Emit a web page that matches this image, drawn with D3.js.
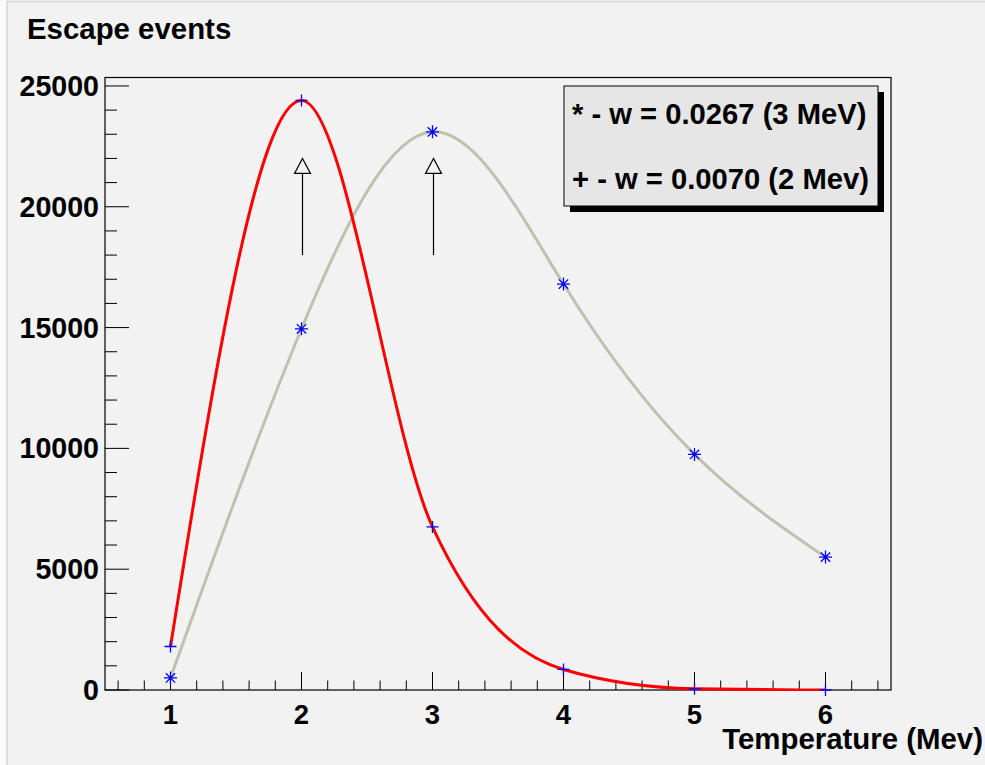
<!DOCTYPE html>
<html><head><meta charset="utf-8">
<script src="https://cdn.jsdelivr.net/npm/d3@7"></script>
<style>html,body{margin:0;padding:0;background:#fafafa;}svg{display:block;font-family:"Liberation Sans",Arial,sans-serif;}</style>
</head><body>
<svg id="c" width="985" height="765"></svg>
<script>
// Data
const temperatures = [1, 2, 3, 4, 5, 6];
const starValues = [500, 14950, 23100, 16800, 9750, 5500];   // "*" w = 0.0267 (3 MeV)
const plusValues = [1800, 24400, 6750, 850, 50, 0];         // "+" w = 0.0070 (2 Mev)
const yTicks = [0, 5000, 10000, 15000, 20000, 25000];
const xTicks = [1, 2, 3, 4, 5, 6];
const arrowXs = [2, 3];
const arrowFrom = 18000, arrowTo = 22000;
const legendLines = ["* - w = 0.0267 (3 MeV)", "+ - w = 0.0070 (2 Mev)"];
const titleText = "Escape events";
const xTitle = "Temperature (Mev)";

const svg = d3.select("#c");
const W = 985, H = 765;
const fl = 105, fr = 891, ft = 77.5, fb = 690;

// canvas background
svg.append("rect").attr("x", 7).attr("y", 2).attr("width", W - 7).attr("height", H - 2).attr("fill", "#f2f2f2");
svg.append("line").attr("x1", 7).attr("x2", W).attr("y1", 1.5).attr("y2", 1.5).attr("stroke", "#dcdcdc").attr("stroke-width", 2);
svg.append("line").attr("x1", 7).attr("x2", 7).attr("y1", 1).attr("y2", H).attr("stroke", "#dcdcdc").attr("stroke-width", 2);

const x = d3.scaleLinear().domain([0.5, 6.5]).range([fl, fr]);
const y = d3.scaleLinear().domain([0, 25350]).range([fb, ft]);

// frame
svg.append("rect").attr("x", fl).attr("y", ft).attr("width", fr - fl).attr("height", fb - ft)
  .attr("fill", "#f2f2f2").attr("stroke", "#000").attr("stroke-width", 1.2);

// clip
svg.append("clipPath").attr("id", "clip").append("rect")
  .attr("x", fl).attr("y", ft).attr("width", fr - fl).attr("height", fb - ft + 1);

// X ticks (inside, upward)
const xMinor = d3.range(0.6, 6.5, 0.2).map(v => +v.toFixed(2));
const gx = svg.append("g");
gx.selectAll("line.minor").data(xMinor).join("line")
  .attr("x1", d => x(d)).attr("x2", d => x(d))
  .attr("y1", fb).attr("y2", d => xTicks.some(t => Math.abs(t - d) < 1e-6) ? fb - 18 : fb - 9.5)
  .attr("stroke", "#000").attr("stroke-width", 1);
gx.selectAll("text").data(xTicks).join("text")
  .attr("x", d => x(d)).attr("y", 724).attr("text-anchor", "middle")
  .attr("font-size", 27.5).attr("font-weight", "bold").text(d => d);

// Y ticks (inside, rightward)
const yMinor = d3.range(0, 25001, 1000);
const gy = svg.append("g");
gy.selectAll("line").data(yMinor).join("line")
  .attr("x1", fl).attr("x2", d => d % 5000 === 0 ? fl + 24 : fl + 12)
  .attr("y1", d => y(d)).attr("y2", d => y(d))
  .attr("stroke", "#000").attr("stroke-width", 1);
gy.selectAll("text").data(yTicks).join("text")
  .attr("x", 99).attr("y", d => y(d) + 10).attr("text-anchor", "end")
  .attr("font-size", 28.6).attr("font-weight", "bold").text(d => d);

// Curves
const pts = (vals) => temperatures.map((t, i) => [t, vals[i]]);
const lineStar = d3.line().x(d => x(d[0])).y(d => y(d[1])).curve(d3.curveNatural);
const linePlus = d3.line().x(d => x(d[0])).y(d => y(d[1])).curve(d3.curveMonotoneX);
const gc = svg.append("g").attr("clip-path", "url(#clip)");
gc.append("path").attr("d", lineStar(pts(starValues))).attr("fill", "none")
  .attr("stroke", "#c0c0b0").attr("stroke-width", 3);
gc.append("path").attr("d", linePlus(pts(plusValues))).attr("fill", "none")
  .attr("stroke", "#ff0000").attr("stroke-width", 3);

// Markers
const gm = svg.append("g");
const s = 6.5;
pts(starValues).forEach(([t, v]) => {
  const cx = x(t), cy = y(v), d = s * 0.72;
  gm.append("path").attr("d",
    `M${cx - s},${cy}H${cx + s}M${cx},${cy - s}V${cy + s}M${cx - d},${cy - d}L${cx + d},${cy + d}M${cx - d},${cy + d}L${cx + d},${cy - d}`)
    .attr("stroke", "#0000ff").attr("stroke-width", 1.3).attr("fill", "none");
});
pts(plusValues).forEach(([t, v]) => {
  const cx = x(t), cy = y(v);
  gm.append("path").attr("d", `M${cx - 6},${cy}H${cx + 6}M${cx},${cy - 6}V${cy + 6}`)
    .attr("stroke", "#0000ff").attr("stroke-width", 1.3).attr("fill", "none");
});

// Arrows
const ga = svg.append("g");
arrowXs.forEach(t => {
  const ax = Math.round(x(t)) + 0.5, y0 = y(arrowFrom), y1 = y(arrowTo);
  ga.append("line").attr("x1", ax).attr("x2", ax).attr("y1", y0).attr("y2", y1 + 15)
    .attr("stroke", "#000").attr("stroke-width", 1.2);
  ga.append("path").attr("d", `M${ax},${y1}L${ax - 8},${y1 + 15}L${ax + 8},${y1 + 15}Z`)
    .attr("fill", "none").attr("stroke", "#000").attr("stroke-width", 1.2);
});

// Legend
const lx = 564, ly = 86, lw = 314, lh = 120;
svg.append("rect").attr("x", lx + 6).attr("y", ly + 6).attr("width", lw).attr("height", lh).attr("fill", "#000");
svg.append("rect").attr("x", lx).attr("y", ly).attr("width", lw).attr("height", lh)
  .attr("fill", "#e6e6e6").attr("stroke", "#000").attr("stroke-width", 1);
svg.selectAll("text.leg").data(legendLines).join("text").attr("class", "leg")
  .attr("x", 572).attr("y", (d, i) => 123.5 + i * 65)
  .attr("font-size", 29.2).attr("font-weight", "bold").text(d => d);

// Titles
svg.append("text").attr("x", 27).attr("y", 38.5).attr("font-size", 29.4).attr("font-weight", "bold").text(titleText);
svg.append("text").attr("x", 983).attr("y", 748.5).attr("text-anchor", "end")
  .attr("font-size", 29.4).attr("font-weight", "bold").text(xTitle);
</script>
</body></html>
